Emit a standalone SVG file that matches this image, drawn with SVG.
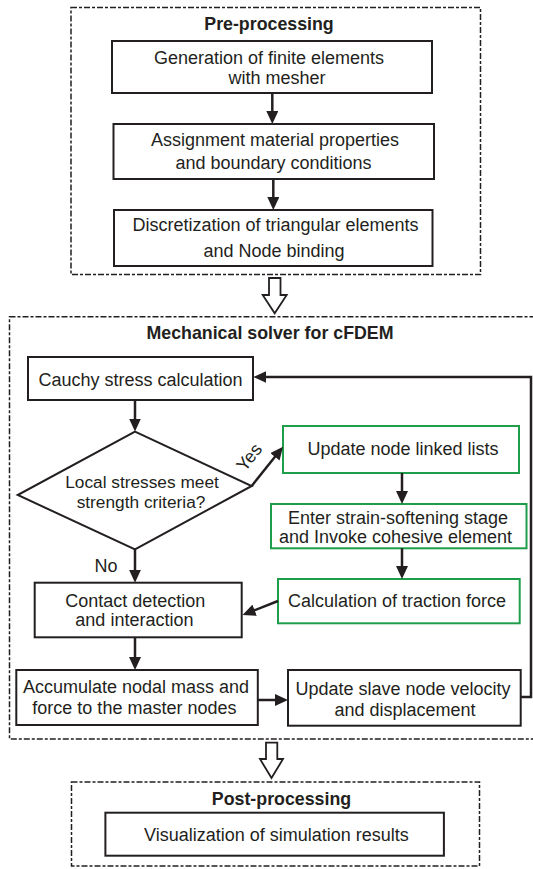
<svg xmlns="http://www.w3.org/2000/svg" width="533" height="869" viewBox="0 0 533 869">
<style>
  .bg { fill: #ffffff; }
  .grp { fill: none; stroke: #231f20; stroke-width: 1.5; stroke-dasharray: 6 2 3 2; }
  .box { fill: #ffffff; stroke: #231f20; stroke-width: 2; }
  .gbox { fill: #ffffff; stroke: #1e9e4a; stroke-width: 2; }
  .t { font-family: "Liberation Sans", Arial, sans-serif; font-size: 18px; fill: #231f20; text-anchor: middle; }
  .td { font-family: "Liberation Sans", Arial, sans-serif; font-size: 17.3px; fill: #231f20; text-anchor: middle; }
  .tb { font-family: "Liberation Sans", Arial, sans-serif; font-size: 17.8px; font-weight: bold; fill: #231f20; text-anchor: middle; }
  .c { fill: none; stroke: #231f20; stroke-width: 2.5; }
  .hollow { fill: #ffffff; stroke: #231f20; stroke-width: 1.8; stroke-linejoin: miter; }
</style>
<defs>
  <marker id="ah" viewBox="0 0 13 12" markerWidth="13" markerHeight="12" refX="4" refY="6" orient="auto" markerUnits="userSpaceOnUse">
    <path d="M0,0 L13,6 L0,12 z" fill="#231f20"/>
  </marker>
</defs>
<rect class="bg" x="0" y="0" width="533" height="869"/>

<g id="pre-processing">
  <rect class="grp" x="71" y="7.5" width="409.5" height="267"/>
  <text class="tb" x="269" y="30">Pre-processing</text>
</g>
<g id="n-generation">
  <rect class="box" x="112" y="41" width="320" height="52"/>
  <text class="t" x="269" y="64">Generation of finite elements</text>
  <text class="t" x="277" y="84">with mesher</text>
</g>
<g id="n-assignment">
  <rect class="box" x="113.5" y="124" width="320.5" height="55"/>
  <text class="t" x="275" y="146">Assignment material properties</text>
  <text class="t" x="273.5" y="169">and boundary conditions</text>
</g>
<g id="n-discretization">
  <rect class="box" x="114" y="210" width="318.5" height="56"/>
  <text class="t" x="275.5" y="231">Discretization of triangular elements</text>
  <text class="t" x="274" y="257">and Node binding</text>
</g>

<g id="mechanical-solver">
  <rect class="grp" x="9.5" y="316.7" width="540" height="422.3"/>
  <text class="tb" x="270" y="339">Mechanical solver for cFDEM</text>
</g>
<g id="n-cauchy">
  <rect class="box" x="28" y="357" width="225" height="43"/>
  <text class="t" x="140.5" y="386">Cauchy stress calculation</text>
</g>
<g id="n-decision">
  <polygon class="box" points="135,431.7 251.7,486 135,549.3 17.7,495"/>
  <text class="td" x="142" y="488">Local stresses meet</text>
  <text class="td" x="141" y="507.5">strength criteria?</text>
</g>
<g id="n-update-lists">
  <rect class="gbox" x="283" y="426" width="236" height="47"/>
  <text class="t" x="403" y="455">Update node linked lists</text>
</g>
<g id="n-strain-softening">
  <rect class="gbox" x="271" y="504" width="255.5" height="44.3"/>
  <text class="t" x="398" y="524.3">Enter strain-softening stage</text>
  <text class="t" x="395.5" y="542.7">and Invoke cohesive element</text>
</g>
<g id="n-traction">
  <rect class="gbox" x="278" y="579" width="241.7" height="44.3"/>
  <text class="t" x="397" y="607">Calculation of traction force</text>
</g>
<g id="n-contact">
  <rect class="box" x="34.7" y="582.7" width="207" height="54.6"/>
  <text class="t" x="135.2" y="606.7">Contact detection</text>
  <text class="t" x="134.4" y="626">and interaction</text>
</g>
<g id="n-accumulate">
  <rect class="box" x="16.3" y="670" width="241.5" height="55"/>
  <text class="t" x="136" y="692.7">Accumulate nodal mass and</text>
  <text class="t" x="134.4" y="714">force to the master nodes</text>
</g>
<g id="n-update-slave">
  <rect class="box" x="288" y="670" width="232.7" height="55.7"/>
  <text class="t" x="403" y="695">Update slave node velocity</text>
  <text class="t" x="405" y="716">and displacement</text>
</g>

<g id="post-processing">
  <rect class="grp" x="71.5" y="782" width="408" height="84"/>
  <text class="tb" x="281.5" y="805">Post-processing</text>
</g>
<g id="n-visualization">
  <rect class="box" x="105.4" y="812.7" width="338.5" height="43"/>
  <text class="t" x="276.4" y="841">Visualization of simulation results</text>
</g>

<g id="connectors">
  <line class="c" x1="272.3" y1="93" x2="272.3" y2="115" marker-end="url(#ah)"/>
  <line class="c" x1="273.3" y1="179" x2="273.3" y2="201" marker-end="url(#ah)"/>
  <line class="c" x1="135" y1="400" x2="135" y2="422.5" marker-end="url(#ah)"/>
  <line class="c" x1="251.7" y1="486" x2="277.4" y2="453.75" marker-end="url(#ah)"/>
  <text class="t" x="0" y="0" transform="translate(254,461) rotate(-52)">Yes</text>
  <line class="c" x1="402" y1="473" x2="402" y2="495" marker-end="url(#ah)"/>
  <line class="c" x1="402" y1="548.3" x2="402" y2="570" marker-end="url(#ah)"/>
  <line class="c" x1="278" y1="601" x2="250.9" y2="611.7" marker-end="url(#ah)"/>
  <line class="c" x1="135" y1="549.3" x2="135" y2="573.7" marker-end="url(#ah)"/>
  <text class="t" x="106" y="572">No</text>
  <line class="c" x1="135" y1="637.3" x2="135" y2="661" marker-end="url(#ah)"/>
  <line class="c" x1="257.8" y1="700" x2="279" y2="700" marker-end="url(#ah)"/>
  <polyline class="c" points="520.7,697 531,697 531,377 262.3,377" marker-end="url(#ah)"/>
  <polygon class="hollow" points="269,278 280.5,278 280.5,295 286.7,295 274.7,313.3 262.7,295 269,295"/>
  <polygon class="hollow" points="266,742.7 277.3,742.7 277.3,759 283,759 271.5,778 260,759 266,759"/>
</g>
</svg>
